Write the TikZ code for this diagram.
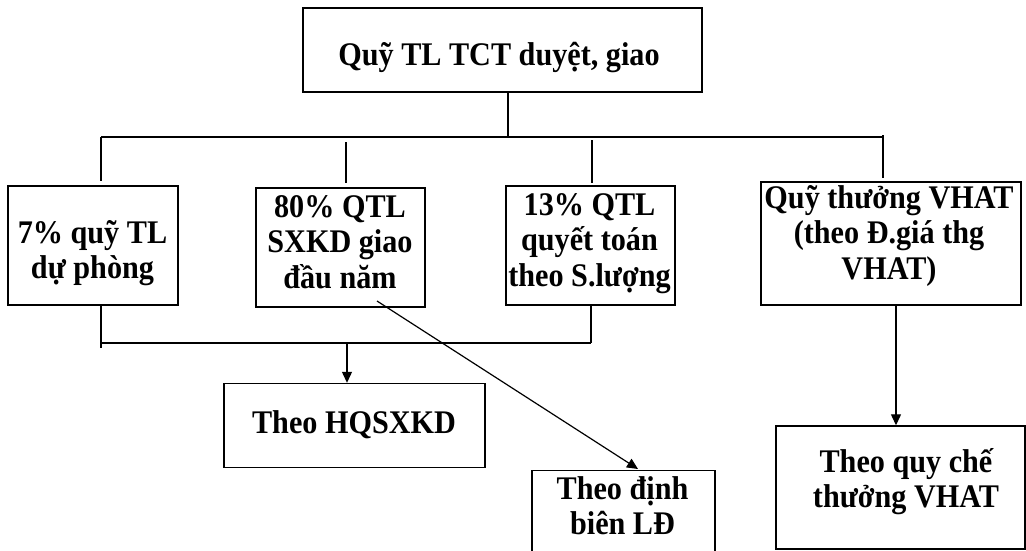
\documentclass[tikz,border=0pt]{standalone}
\usepackage{fontspec}
\setmainfont{Liberation Serif}[FakeStretch=0.915]
\usetikzlibrary{arrows.meta}
% fixed height for the first line of every label
\newcommand\capline{\rule{0pt}{32pt}}
\begin{document}
\begin{tikzpicture}[x=1pt,y=-1pt,
  box/.style={draw, line width=1.4pt, inner sep=0pt},
  txt/.style={align=center, inner sep=0pt, anchor=north,
    font=\bfseries\fontsize{33}{35.5}\selectfont},
  link/.style={line width=1.2pt},
  arr/.style={link, -{Triangle[length=11pt,width=10pt]}}]
\useasboundingbox (0,0) rectangle (1026,551);
\fill[white] (0,0) rectangle (1026,551);
\clip (0,0) rectangle (1026,551);

% top level
\node[box, minimum width=399pt, minimum height=84pt] (top) at (502.5,50) {};
\node[txt] (topt) at (499,33) {\capline Quỹ TL TCT duyệt, giao};

% second level
\node[box, minimum width=170pt, minimum height=119pt] (b1) at (93,245.5) {};
\node[txt] (b1t) at (92.5,211) {\capline 7\% quỹ TL\\dự phòng};
\node[box, minimum width=169pt, minimum height=119pt] (b2) at (340.5,247.5) {};
\node[txt] (b2t) at (340,185) {\capline 80\% QTL\\SXKD giao\\đầu năm};
\node[box, minimum width=169pt, minimum height=119pt] (b3) at (590.5,245.5) {};
\node[txt] (b3t) at (589.5,183) {\capline 13\% QTL\\quyết toán\\theo S.lượng};
\node[box, minimum width=260pt, minimum height=123pt] (b4) at (891,243.5) {};
\node[txt] (b4t) at (889,176) {\capline Quỹ thưởng VHAT\\(theo Đ.giá thg\\VHAT)};

% third level
\node[box, minimum width=261pt, minimum height=84pt] (hq) at (354.5,425.5) {};
\node[txt] (hqt) at (354,401) {\capline Theo HQSXKD};
\node[box, minimum width=183pt, minimum height=110pt, anchor=north] (dinh) at (623.5,470) {};
\node[txt] (dinht) at (622.5,467) {\capline Theo định\\biên LĐ};
\node[box, minimum width=249pt, minimum height=123pt] (qc) at (900.5,487.5) {};
\node[txt] (qct) at (906,440) {\capline Theo quy chế\\thưởng VHAT};

% junction points of the upper bus
\coordinate (j0) at (508,137);
\coordinate (jl) at (101,137);
\coordinate (jr) at (883,137);
\coordinate (d1a) at (101,137);  \coordinate (d1b) at (101,181);
\coordinate (d2a) at (346,142);  \coordinate (d2b) at (346,183);
\coordinate (d3a) at (592,140);  \coordinate (d3b) at (592,183);
\coordinate (d4a) at (883,135);  \coordinate (d4b) at (883,178);

\draw[link] (top.south -| j0) -- (j0);
\draw[link] (jl) -- (jr);
\draw[link] (d1a) -- (d1b);
\draw[link] (d2a) -- (d2b);
\draw[link] (d3a) -- (d3b);
\draw[link] (d4a) -- (d4b);

% lower bus joining the 7% and 13% funds
\coordinate (u1) at (101,305);
\coordinate (u1e) at (101,348);
\coordinate (u3) at (591,305);
\coordinate (bl) at (101,343);
\coordinate (br) at (591,343);
\coordinate (hqs) at (347,343);
\draw[link] (u1) -- (u1e);
\draw[link] (u3) -- (br);
\draw[link] (bl) -- (br);
\draw[arr] (hqs) -- (hqs |- hq.north);

% diagonal from the 80% fund
\coordinate (d0) at (377,301);
\coordinate (dt) at (638,469);
\draw[arr] (d0) -- (dt);

% bonus fund to its rule
\coordinate (v0) at (896,305);
\draw[arr] (v0) -- (v0 |- qc.north);
\end{tikzpicture}
\end{document}
